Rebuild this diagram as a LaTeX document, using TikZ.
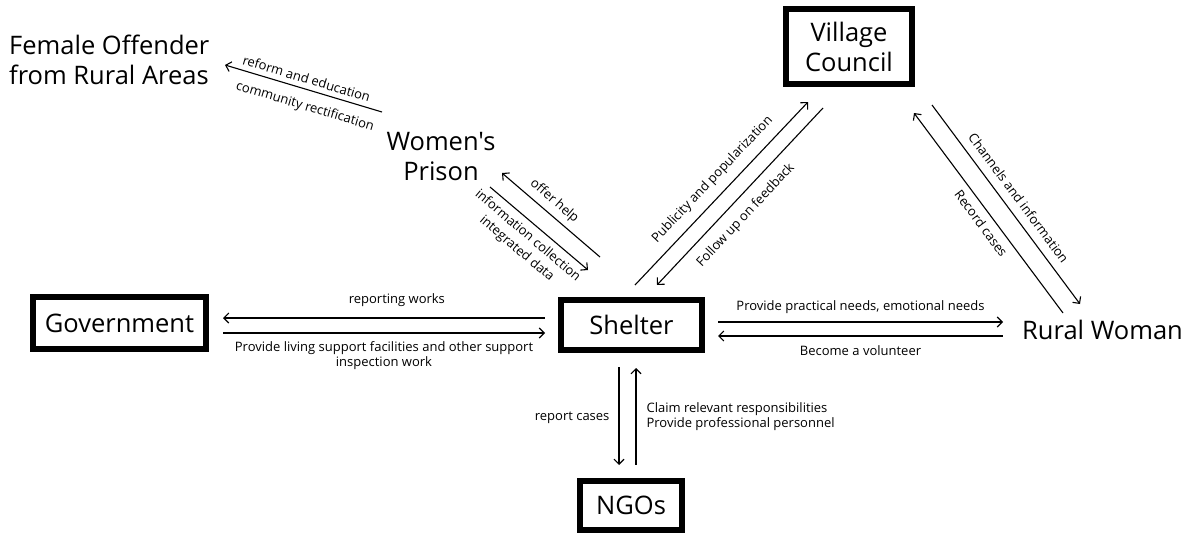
\documentclass[tikz,border=0pt]{standalone}
\usepackage{fontspec}
\setmainfont{Open Sans}[Ligatures=TeXOff]
\usetikzlibrary{arrows.meta}
\begin{document}
\begin{tikzpicture}[x=1pt,y=-1pt,
  big/.style={font=\fontsize{25.5}{30}\selectfont, align=center, inner sep=0pt},
  box/.style={big, draw, line width=6pt},
  lbl/.style={font=\fontsize{13}{15}\selectfont, inner sep=2pt},
  conn/.style={line width=1.1pt},
  tip/.style={-{Straight Barb[length=5pt,width=10pt]}},
  rtip/.style={{Straight Barb[length=5pt,width=10pt]}-}
]
\fill[white] (0,0) rectangle (1188,535);
\useasboundingbox (0,0) rectangle (1188,535);

% main nodes
\node[box, minimum width=141pt, minimum height=50pt] (shelter) at (631.5,325) {Shelter};
\node[box, minimum width=173pt, minimum height=52pt] (gov) at (119.5,323) {Government};
\node[box, minimum width=126pt, minimum height=75pt] (vc) at (849,46.5) {Village\\Council};
\node[box, minimum width=102pt, minimum height=49pt] (ngo) at (631,505.5) {NGOs};
\node[big, align=left, anchor=west] (fo) at (9,60) {Female Offender\\from Rural Areas};
\node[big] (wp) at (441,157) {Women's\\Prison};
\node[big, anchor=west] (rw) at (1022,330) {Rural Woman};

% end coordinates
\coordinate (reA) at (225,65);   \coordinate (reB) at (382,112);
\coordinate (ohA) at (502,173);  \coordinate (ohB) at (600,257);
\coordinate (icA) at (490,187);  \coordinate (icB) at (588,270);
\coordinate (puA) at (635,285);  \coordinate (puB) at (808,102);
\coordinate (fuA) at (657,285);  \coordinate (fuB) at (823,108);
\coordinate (rcA) at (914,113);  \coordinate (rcB) at (1063,313);
\coordinate (chA) at (932,105);  \coordinate (chB) at (1080,304);
\coordinate (g1A) at (223,318);  \coordinate (g1B) at (545,318);
\coordinate (g2A) at (223,333);  \coordinate (g2B) at (545,333);
\coordinate (r1A) at (718,322);  \coordinate (r1B) at (1003,322);
\coordinate (r2A) at (718,336);  \coordinate (r2B) at (1003,336);
\coordinate (n1A) at (619,367);  \coordinate (n1B) at (619,465);
\coordinate (n2A) at (636,368);  \coordinate (n2B) at (636,465);

% Women's prison -> female offender
\draw[conn, rtip] (reA) -- node[lbl, sloped, above=3pt, pos=0.5] {reform and education}
                               node[lbl, sloped, below=8pt, pos=0.54] {community rectification} (reB);
% shelter <-> prison
\draw[conn, rtip] (ohA) -- node[lbl, sloped, above=3.5pt, pos=0.45] {offer help} (ohB);
\draw[conn, tip] (icA) -- node[lbl, sloped, below=4pt, align=center, pos=0.47, font=\fontsize{13}{17}\selectfont] {information collection\\integrated data} (icB);
% shelter <-> village council
\draw[conn, tip] (puA) -- node[lbl, sloped, above=7pt, pos=0.516] {Publicity and popularization} (puB);
\draw[conn, rtip] (fuA) -- node[lbl, sloped, below=8pt, pos=0.46] {Follow up on feedback} (fuB);
% village council <-> rural woman
\draw[conn, rtip] (rcA) -- node[lbl, sloped, below=4.5pt, pos=0.516] {Record cases} (rcB);
\draw[conn, tip] (chA) -- node[lbl, sloped, above=6.5pt, pos=0.51] {Channels and information} (chB);
% government <-> shelter
\draw[conn, rtip] (g1A) -- node[lbl, above=8.5pt, pos=0.54] {reporting works} (g1B);
\draw[conn, tip] (g2A) -- node[lbl, below=6pt, align=center, font=\fontsize{13}{15}\selectfont] {Provide living support facilities and other support\\inspection work} (g2B);
% shelter <-> rural woman
\draw[conn, tip] (r1A) -- node[lbl, above=5.5pt] {Provide practical needs, emotional needs} (r1B);
\draw[conn, rtip] (r2A) -- node[lbl, below=7pt] {Become a volunteer} (r2B);
% shelter <-> NGOs
\draw[conn, tip] (n1A) -- node[lbl, left=7pt, pos=0.52] {report cases} (n1B);
\draw[conn, rtip] (n2A) -- node[lbl, right=8pt, align=left, pos=0.5] {Claim relevant responsibilities\\Provide professional personnel} (n2B);
\end{tikzpicture}
\end{document}
